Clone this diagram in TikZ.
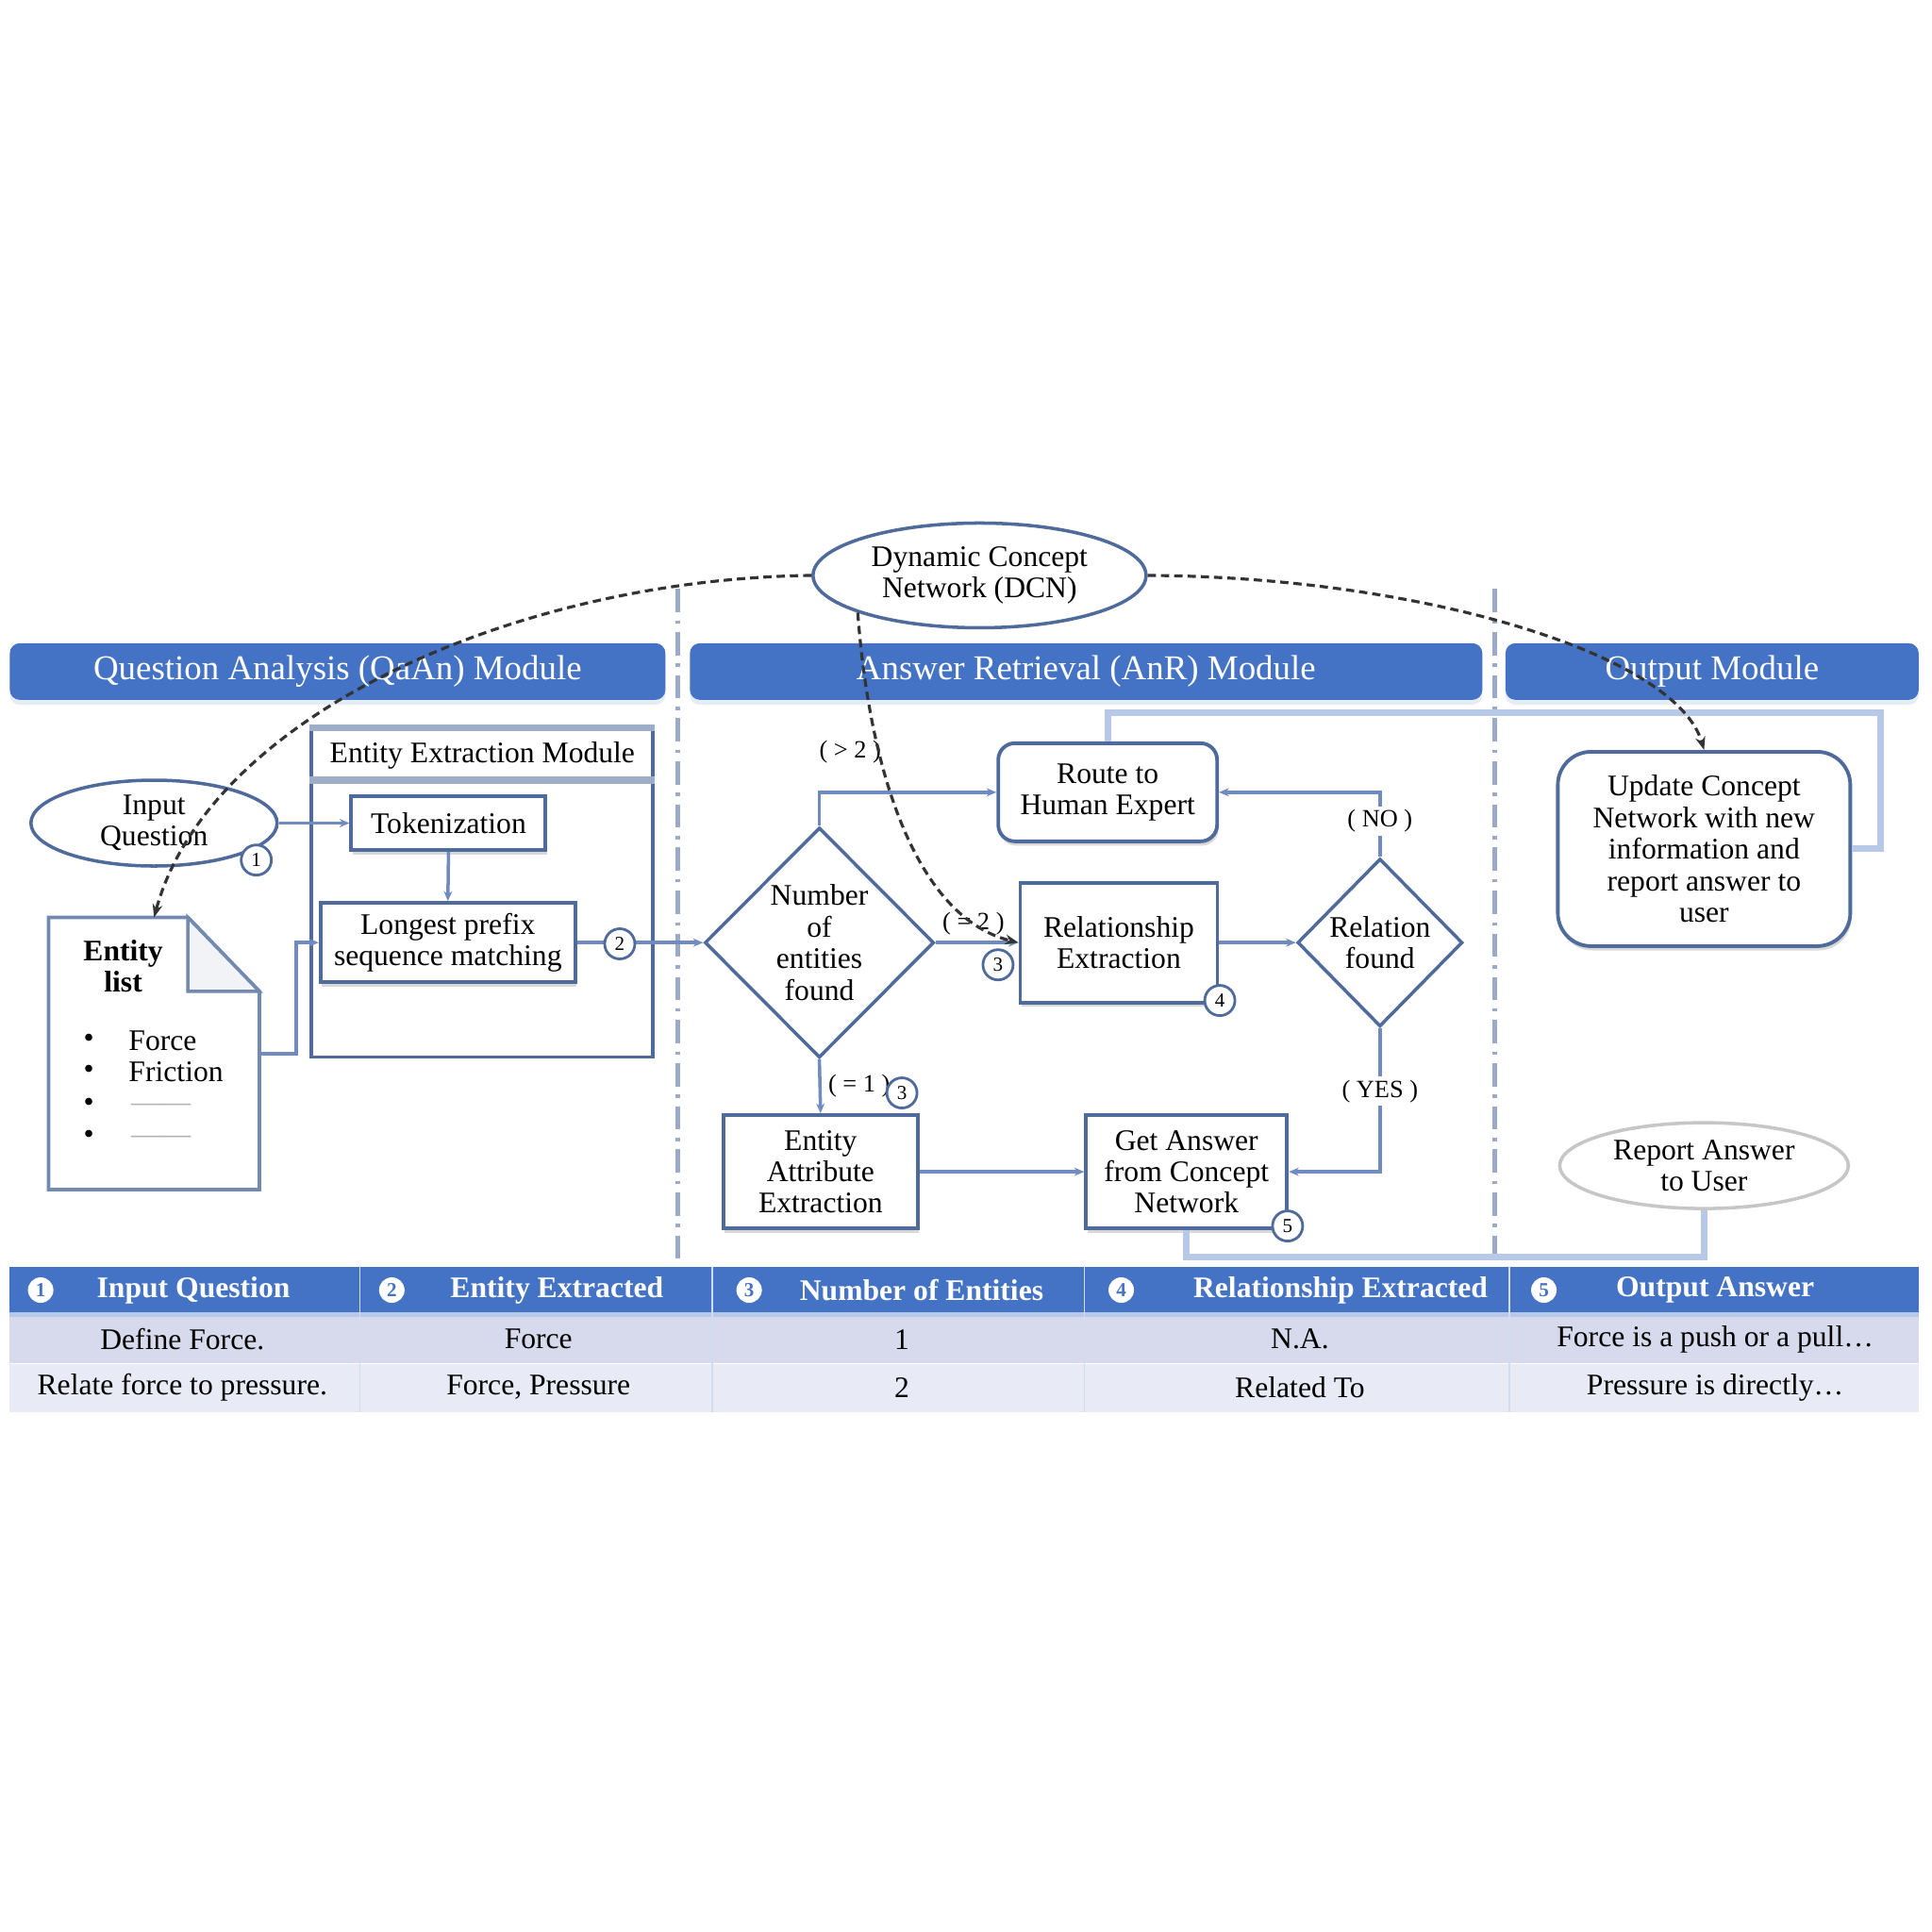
\documentclass[tikz,border=0pt]{standalone}
\usepackage{fontspec}
\setmainfont{Liberation Serif}
\usetikzlibrary{shapes.geometric,arrows.meta,calc,shadows}
\definecolor{barblue}{HTML}{4472C4}
\definecolor{edgec}{HTML}{4F6B9C}
\definecolor{connc}{HTML}{6F8BBF}
\definecolor{palec}{HTML}{B8C9E8}
\definecolor{sepc}{HTML}{9AAAC8}
\definecolor{rowa}{HTML}{D6DAEC}
\definecolor{rowb}{HTML}{E8EAF5}
\begin{document}
\begin{tikzpicture}[x=0.013061cm,y=-0.013061cm,
  txt/.style={font=\fontsize{9}{9.5}\selectfont},
  box/.style={draw=edgec, line width=1.1pt, fill=white, align=center, txt, inner sep=1pt,
     drop shadow={shadow xshift=0.4pt, shadow yshift=-1.3pt, opacity=0.3, fill=gray}},
  rbox/.style={box, rounded corners=5pt},
  ell/.style={ellipse, draw=edgec, line width=1pt, fill=white, align=center, txt, inner sep=0pt},
  dia/.style={diamond, draw=edgec, line width=1pt, fill=white, align=center, txt, inner sep=0pt},
  bar/.style={fill=barblue, rounded corners=3pt, text=white, font=\fontsize{10.5}{12}\selectfont,
     minimum height=0.6cm, inner sep=0pt,
     drop shadow={shadow xshift=0pt, shadow yshift=-1.5pt, opacity=0.35, fill=palec}},
  mk/.style={circle, draw=edgec, fill=white, line width=0.8pt, inner sep=0pt, minimum size=0.32cm,
     font=\fontsize{6}{6}\selectfont},
  mkh/.style={circle, fill=white, text=barblue, inner sep=0pt, minimum size=0.27cm,
     font=\bfseries\fontsize{6}{6}\selectfont},
  cn/.style={draw=connc, line width=1pt, -{Stealth[length=3pt,width=2.5pt]}},
  pl/.style={draw=palec, line width=2pt},
  lab/.style={font=\fontsize{7.5}{8}\selectfont, fill=white, inner sep=1pt},
  dcnl/.style={draw=black!80, line width=0.9pt, dash pattern=on 2.5pt off 1.5pt, -{Stealth[length=4pt,width=3pt]}},
  sepl/.style={draw=sepc, line width=1.3pt, dash pattern=on 7pt off 2.5pt on 1pt off 2.5pt},
  hd/.style={text=white, font=\bfseries\fontsize{9}{10}\selectfont},
  cell/.style={font=\fontsize{9}{10}\selectfont}
]
\useasboundingbox (0,0) rectangle (1568,1568);
\fill[white] (0,0) rectangle (1568,1568);

% separators
\draw[sepl] (550,478) -- (550,1022);
\draw[sepl] (1213,478) -- (1213,1022);

% header bars
\node[bar, minimum width=6.95cm] (b1) at (274,545) {Question Analysis (QaAn) Module};
\node[bar, minimum width=8.40cm] (b2) at (881.5,545) {Answer Retrieval (AnR) Module};
\node[bar, minimum width=4.38cm] (b3) at (1389.5,545) {Output Module};

% DCN
\node[ell, minimum width=3.53cm, minimum height=1.11cm] (dcn) at (795,467) {Dynamic Concept\\Network (DCN)};

% QaAn module
\node[ell, minimum width=2.61cm, minimum height=0.91cm] (iq) at (125,668) {Input\\Question};

\node[draw=edgec, line width=1.1pt, minimum width=3.62cm, minimum height=3.47cm, inner sep=0pt] (eem) at (391.5,725) {};
\node[txt] (eemt) at (391.5,613) {Entity Extraction Module};
\draw[draw=edgec!55, line width=2.2pt] (eem.west |- 0,633) -- (eem.east |- 0,633);
\draw[draw=edgec!55, line width=2.2pt] (eem.north west) -- (eem.north east);

\node[box, minimum width=2.06cm, minimum height=0.57cm] (tok) at (364,668) {Tokenization};
\node[box, minimum width=2.70cm, minimum height=0.84cm] (lps) at (363.5,765) {Longest prefix\\sequence matching};

% entity list document
\node[minimum width=2.22cm, minimum height=2.87cm, inner sep=0pt] (el) at (125,855) {};
\draw[draw=edgec!80, line width=1.1pt, fill=white]
  (el.north west) -- ($(el.north east)+(-58,0)$) -- ($(el.north east)+(0,60)$)
  -- (el.south east) -- (el.south west) -- cycle;
\draw[draw=edgec!80, line width=1pt, fill=edgec!8]
  ($(el.north east)+(-58,0)$) -- ($(el.north east)+(-58,60)$) -- ($(el.north east)+(0,60)$) -- cycle;
\node[txt, font=\bfseries\fontsize{9}{9.5}\selectfont, align=center] (elt) at (100,784) {Entity\\list};
\node[txt] (bu1) at (72,845) {\textbullet};
\node[txt] (bu2) at (72,870) {\textbullet};
\node[txt] (bu3) at (72,897) {\textbullet};
\node[txt] (bu4) at (72,923) {\textbullet};
\node[txt, anchor=west] (it1) at (95,845) {Force};
\node[txt, anchor=west] (it2) at (95,870) {Friction};
\node[txt, anchor=west, text=gray!60] (it3) at (97,899) {——};
\node[txt, anchor=west, text=gray!60] (it4) at (97,925) {——};

\draw[cn] (iq.east) -- (tok.west);
\draw[cn] (tok.south) -- (lps.north);
\draw[cn] (el.east) -- ++(30,0) |- (lps.west);

% AnR module
\node[dia, minimum width=2.43cm, minimum height=2.44cm] (nef) at (665,765) {Number\\of\\entities\\found};
\node[rbox, minimum width=2.32cm, minimum height=1.04cm] (rhe) at (899,643) {Route to\\Human Expert};
\node[box, minimum width=2.09cm, minimum height=1.27cm] (rel) at (908,765) {Relationship\\Extraction};
\node[dia, minimum width=1.75cm, minimum height=1.78cm] (rf) at (1120,765) {Relation\\found};
\node[box, minimum width=2.06cm, minimum height=1.20cm] (eae) at (666,951) {Entity\\Attribute\\Extraction};
\node[box, minimum width=2.13cm, minimum height=1.20cm] (gac) at (963,951) {Get Answer\\from Concept\\Network};

\draw[cn] (lps.east) -- (nef.west);
\draw[cn] (nef.north) |- (rhe.west);
\node[lab] (l1) at (690,610) {( > 2 )};
\draw[cn] (nef.east) -- (rel.west);
\node[lab, fill=none] (l2) at (790,750) {( = 2 )};
\draw[cn] (rel.east) -- (rf.west);
\draw[cn] (rf.north) |- (rhe.east) node[lab, pos=0.28] (l3) {( NO )};
\draw[cn] (rf.south) |- (gac.east) node[lab, pos=0.22] (l4) {( YES )};
\draw[cn] (nef.south) -- (eae.north) node[lab, midway, right=1pt] (l5) {( = 1 )};
\draw[cn] (eae.east) -- (gac.west);

% Output module
\node[rbox, rounded corners=10pt, minimum width=3.10cm, minimum height=2.06cm] (upd) at (1383,689)
  {Update Concept\\Network with new\\information and\\report answer to\\user};
\node[ell, draw=gray!45, minimum width=3.06cm, minimum height=0.91cm] (rau) at (1383,946) {Report Answer\\to User};

\draw[pl] (rhe.north) -- ++(0,-23) -| ($(upd.east)+(23,0)$) -- (upd.east);
\draw[pl] (gac.south) -- ++(0,22) -| (rau.south);

% DCN dashed links
\draw[dcnl] (dcn.west) .. controls (420,470) and (170,580) .. (el.north);
\draw[dcnl] (dcn.east) .. controls (1150,468) and (1360,530) .. (upd.north);
\draw[dcnl] (dcn.197) .. controls (706,630) and (745,745) .. (rel.west);

% markers
\node[mk] (m1) at (208,698) {1};
\node[mk] (m2) at (503,766) {2};
\node[mk] (m3a) at (810,783) {3};
\node[mk] (m4) at (990,812) {4};
\node[mk] (m3b) at (732,887) {3};
\node[mk] (m5) at (1045,995) {5};

% table
\fill[barblue] (8,1028) rectangle (1557,1066);
\fill[rowa] (8,1068) rectangle (1557,1106);
\fill[rowb] (8,1107) rectangle (1557,1146);
\draw[palec, line width=1.5pt] (8,1067) -- (1557,1067);
\foreach \cx in {292,578,880,1225} {
  \draw[white!75!barblue, line width=0.5pt] (\cx,1028) -- (\cx,1146);
}
\node[mkh] (h1c) at (33,1047) {1};
\node[mkh] (h2c) at (318,1047) {2};
\node[mkh] (h3c) at (608,1047) {3};
\node[mkh] (h4c) at (910,1047) {4};
\node[mkh] (h5c) at (1253,1047) {5};
\node[hd] (h1) at (157,1047) {Input Question};
\node[hd] (h2) at (452,1047) {Entity Extracted};
\node[hd] (h3) at (748,1047) {Number of Entities};
\node[hd] (h4) at (1088,1047) {Relationship Extracted};
\node[hd] (h5) at (1392,1047) {Output Answer};

\node[cell] (r1a) at (148,1087) {Define Force.};
\node[cell] (r1b) at (437,1087) {Force};
\node[cell] (r1c) at (732,1087) {1};
\node[cell] (r1d) at (1055,1087) {N.A.};
\node[cell] (r1e) at (1392,1087) {Force is a push or a pull…};
\node[cell] (r2a) at (148,1126) {Relate force to pressure.};
\node[cell] (r2b) at (437,1126) {Force, Pressure};
\node[cell] (r2c) at (732,1126) {2};
\node[cell] (r2d) at (1055,1126) {Related To};
\node[cell] (r2e) at (1392,1126) {Pressure is directly…};
\end{tikzpicture}
\end{document}
